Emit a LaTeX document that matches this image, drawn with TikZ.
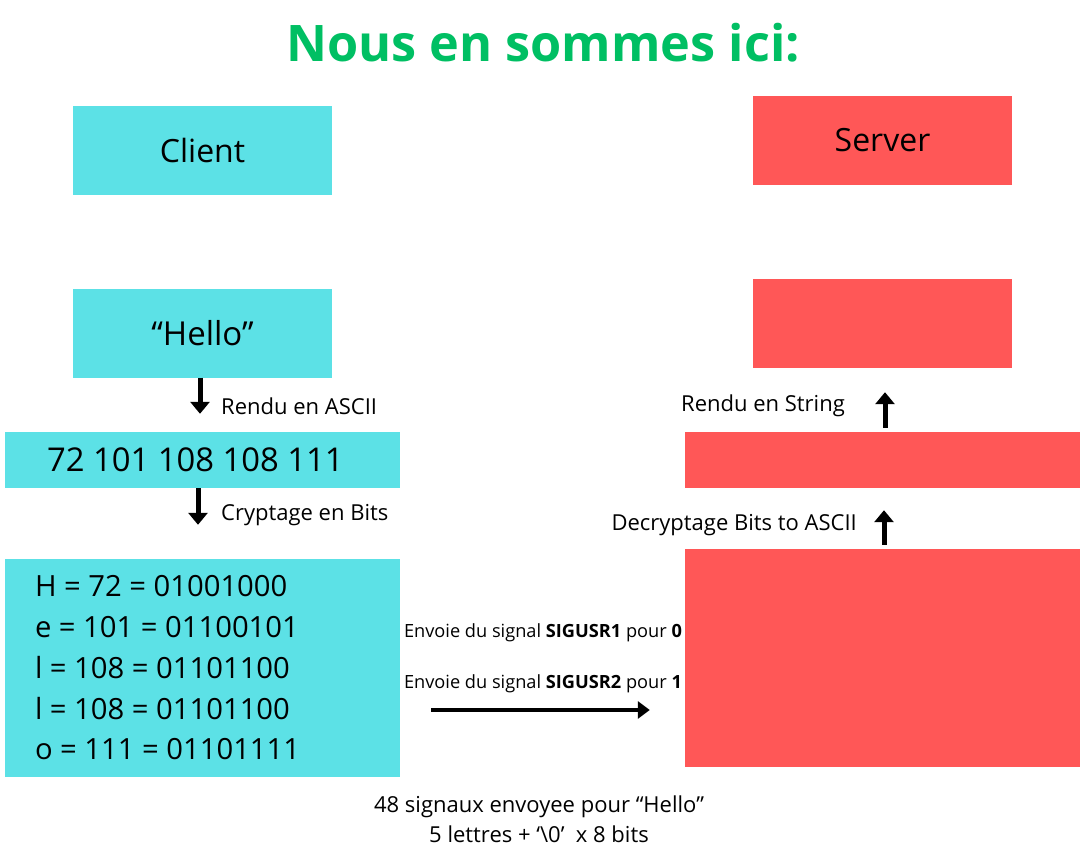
\documentclass[tikz,border=0pt]{standalone}
\usepackage{fontspec}
\setmainfont{Open Sans}
\usetikzlibrary{arrows.meta}
\definecolor{clientcol}{HTML}{5CE1E6}
\definecolor{servercol}{HTML}{FF5757}
\definecolor{titlecol}{HTML}{00BF63}
\begin{document}
\begin{tikzpicture}[
    x=1pt,y=-1pt,
    box/.style 2 args={fill=#1,inner sep=0pt,minimum width=#2},
    client/.style={box={clientcol}{259},minimum height=89},
    server/.style={box={servercol}{259},minimum height=89},
    wide/.style={box={#1}{395},minimum height=56},
    tall/.style={box={#1}{395},minimum height=218},
    flow/.style={-{Triangle[width=19pt,length=12pt]},line width=5pt},
    note/.style={font=\fontsize{22}{26}\selectfont,inner sep=0pt},
    small/.style={font=\fontsize{18.2}{22}\selectfont,inner sep=0pt}
]
\useasboundingbox (0,0) rectangle (1080,864);

%Draw the title
\node[font=\fontsize{50.4}{60}\selectfont\bfseries,text=titlecol] (title) at (543,43) {Nous en sommes ici:};

%Draw the client side
\node[client,font=\fontsize{32}{38}\selectfont] (client) at (202.5,150.5) {Client};
\node[client,font=\fontsize{33}{38}\selectfont] (hello) at (202.5,333) {“Hello”};
\node[wide=clientcol] (ascii) at (202.5,460) {};
\node[anchor=west,inner sep=0pt,font=\fontsize{32.8}{38}\selectfont] (asciitxt) at ([xshift=42]ascii.west) {72 101 108 108 111};
\node[tall=clientcol] (bits) at (202.5,668) {};
\node[anchor=west,inner sep=0pt,align=left,font=\fontsize{29.2}{40.75}\selectfont] (bitstxt) at ([xshift=30]bits.west) {H = 72 = 01001000\\e = 101 = 01100101\\l = 108 = 01101100\\l = 108 = 01101100\\o = 111 = 01101111};

%Draw the server side
\node[server,font=\fontsize{32}{38}\selectfont] (server) at (882.5,140.5) {Server};
\node[server] (string) at (882.5,323.5) {};
\node[wide=servercol] (decode) at (882.5,460) {};
\node[tall=servercol] (receive) at (882.5,658) {};

%Draw the connections
\draw[flow] ([xshift=-2.5]hello.south) -- ([xshift=-2.5,yshift=18]ascii.north);
\node[note,anchor=west] (l1) at (221,406) {Rendu en ASCII};
\draw[flow] ([xshift=-4.5]ascii.south) -- ([xshift=-4.5,yshift=34]bits.north);
\node[note,anchor=west] (l2) at (221,515) {Cryptage en Bits};
\draw[flow] ([xshift=2.5,yshift=4]decode.north) -- ([xshift=2.5,yshift=-24]string.south);
\node[note,anchor=east] (l3) at (845,406) {Rendu en String};
\draw[flow] ([xshift=1.5,yshift=4]receive.north) -- ([xshift=1.5,yshift=-22]decode.south);
\node[note,anchor=east] (l4) at (857,525) {Decryptage Bits to ASCII};
\draw[flow,line width=4pt,-{Triangle[width=17pt,length=12pt]}] ([xshift=31,yshift=-42]bits.east) -- ([xshift=-35,yshift=-52]receive.west);
\node[small] (s1) at (543,633) {Envoie du signal \textbf{SIGUSR1} pour \textbf{0}};
\node[small] (s2) at (543,684) {Envoie du signal \textbf{SIGUSR2} pour \textbf{1}};

%Draw the count
\node[note,align=center,font=\fontsize{22}{30}\selectfont] (count) at (539,819) {48 signaux envoyee pour “Hello”\\5 lettres + ‘\textbackslash0’\ \ x 8 bits};

\end{tikzpicture}
\end{document}
